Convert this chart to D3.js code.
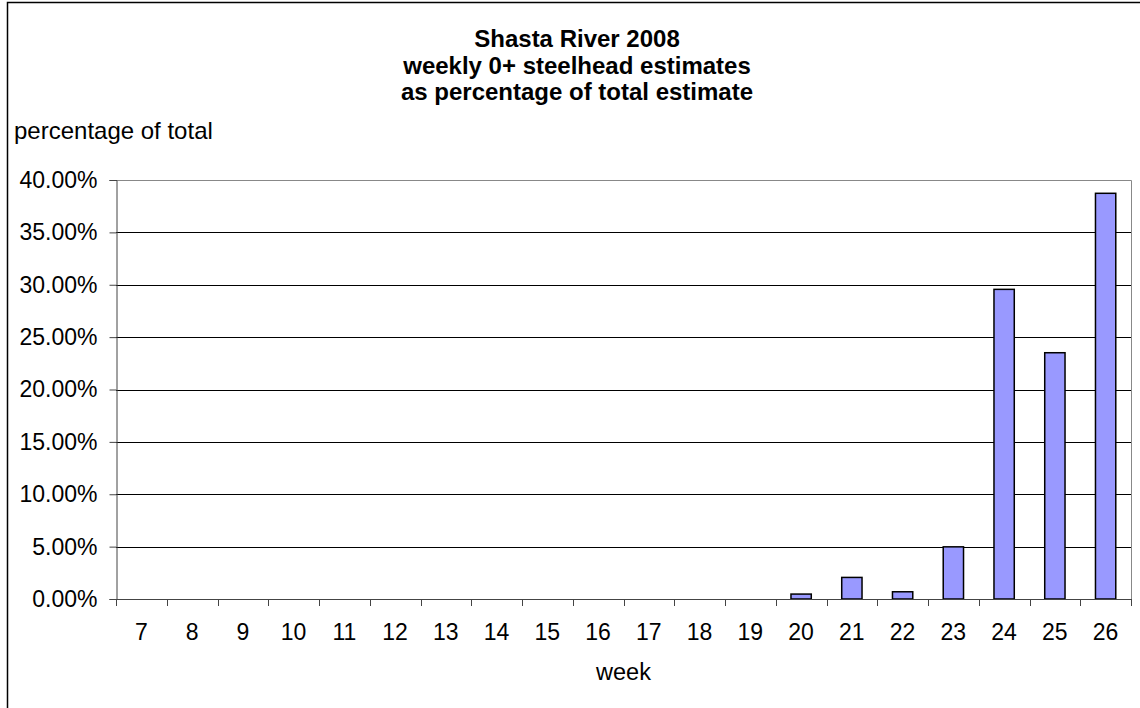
<!DOCTYPE html>
<html>
<head>
<meta charset="utf-8">
<script src="https://cdn.jsdelivr.net/npm/d3@7"></script>
<style>
  html, body { margin: 0; padding: 0; background: #fff; }
  svg { display: block; font-family: "Liberation Sans", Arial, sans-serif; }
</style>
</head>
<body>
<svg id="chart" width="1140" height="708"></svg>
<script>
// Weekly 0+ steelhead estimates, Shasta River 2008 (percent of season total)
const weeks = [7, 8, 9, 10, 11, 12, 13, 14, 15, 16, 17, 18, 19, 20, 21, 22, 23, 24, 25, 26];
const percentOfTotal = [0, 0, 0, 0, 0, 0, 0, 0, 0, 0, 0, 0, 0, 0.47, 2.06, 0.69, 4.98, 29.56, 23.51, 38.73];
const yTicks = [0, 5, 10, 15, 20, 25, 30, 35, 40];
const titleLines = ["Shasta River 2008", "weekly 0+ steelhead estimates", "as percentage of total estimate"];

const data = weeks.map((w, i) => ({ week: w, value: percentOfTotal[i] }));

const svg = d3.select("#chart");
const plot = { left: 116, top: 180, right: 1131, bottom: 599 };
const tickFont = 23;
const labelFont = 24;

// Outer chart frame
svg.append("rect")
  .attr("x", 7.5).attr("y", 2.5)
  .attr("width", 1160).attr("height", 720)
  .attr("fill", "#fff").attr("stroke", "#000").attr("stroke-width", 1.5);

const x = d3.scaleBand()
  .domain(weeks)
  .range([plot.left, plot.right])
  .paddingInner(0.6)
  .paddingOuter(0.3);

const y = d3.scaleLinear().domain([0, 40]).range([plot.bottom, plot.top]);

// Horizontal gridlines
svg.append("g")
  .selectAll("line")
  .data(yTicks.filter(t => t > 0 && t < 40))
  .join("line")
  .attr("x1", plot.left).attr("x2", plot.right)
  .attr("y1", d => Math.round(y(d)) + 0.5).attr("y2", d => Math.round(y(d)) + 0.5)
  .attr("stroke", "#000").attr("stroke-width", 1);

// Plot area border (top and right)
svg.append("path")
  .attr("d", `M${plot.left},${plot.top + 0.5}H${plot.right + 0.5}V${plot.bottom}`)
  .attr("fill", "none").attr("stroke", "#888").attr("stroke-width", 1);

// Bars
svg.append("g")
  .selectAll("rect")
  .data(data.filter(d => d.value > 0))
  .join("rect")
  .attr("x", d => x(d.week))
  .attr("y", d => y(d.value))
  .attr("width", x.bandwidth())
  .attr("height", d => y(0) - y(d.value))
  .attr("fill", "#9999FF")
  .attr("stroke", "#000")
  .attr("stroke-width", 1.5);

// Y axis
const yAxis = svg.append("g")
  .attr("transform", `translate(${plot.left + 0.5},0)`)
  .call(d3.axisLeft(y).tickValues(yTicks).tickFormat(d => d.toFixed(2) + "%").tickSize(7).tickPadding(12));
yAxis.select(".domain").attr("stroke", "#444");
yAxis.selectAll(".tick line").attr("stroke", "#444");
yAxis.selectAll("text").attr("font-size", tickFont).attr("fill", "#000")
  .attr("font-family", "'Liberation Sans', Arial, sans-serif");

// X axis: labels centred in each category, tick marks on category boundaries
const step = x.step();
const xAxis = svg.append("g")
  .attr("transform", `translate(0,${plot.bottom + 0.5})`)
  .call(d3.axisBottom(x).tickSize(0).tickPadding(24));
xAxis.select(".domain").remove();
xAxis.selectAll("text").attr("font-size", tickFont).attr("fill", "#000")
  .attr("font-family", "'Liberation Sans', Arial, sans-serif");

svg.append("line")
  .attr("x1", plot.left).attr("x2", plot.right + 0.5)
  .attr("y1", plot.bottom + 0.5).attr("y2", plot.bottom + 0.5)
  .attr("stroke", "#444").attr("stroke-width", 1.2);

svg.append("g")
  .selectAll("line")
  .data(d3.range(weeks.length + 1))
  .join("line")
  .attr("x1", i => Math.round(plot.left + i * step) + 0.5)
  .attr("x2", i => Math.round(plot.left + i * step) + 0.5)
  .attr("y1", plot.bottom).attr("y2", plot.bottom + 7)
  .attr("stroke", "#444");

// Title
svg.append("text")
  .attr("x", 577).attr("y", 47)
  .attr("text-anchor", "middle")
  .attr("font-size", labelFont).attr("font-weight", "bold")
  .selectAll("tspan")
  .data(titleLines)
  .join("tspan")
  .attr("x", 577)
  .attr("dy", (d, i) => i === 0 ? 0 : 26.5)
  .text(d => d);

// Axis titles
svg.append("text")
  .attr("x", 14).attr("y", 139)
  .attr("font-size", labelFont)
  .text("percentage of total");

svg.append("text")
  .attr("x", (plot.left + plot.right) / 2).attr("y", 680)
  .attr("text-anchor", "middle")
  .attr("font-size", 23.5)
  .text("week");
</script>
</body>
</html>
